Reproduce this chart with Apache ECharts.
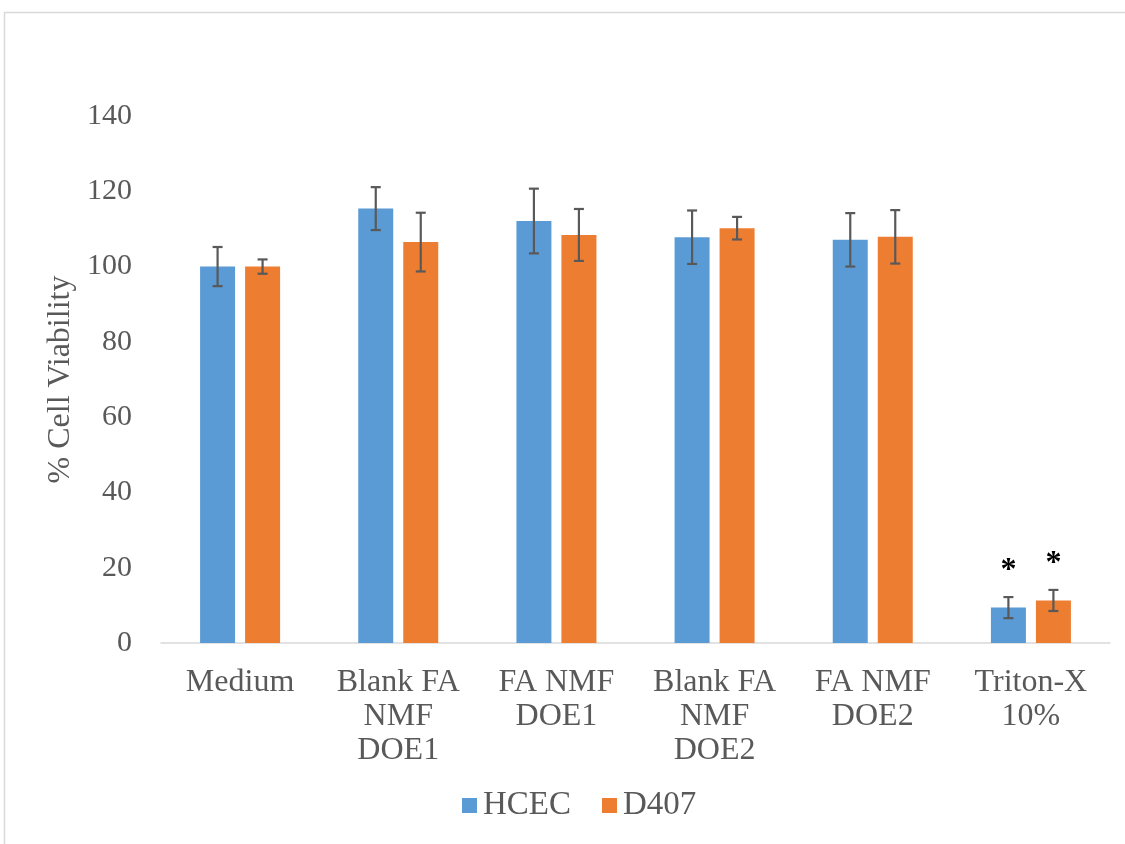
<!DOCTYPE html>
<html>
<head>
<meta charset="utf-8">
<script src="https://cdn.jsdelivr.net/npm/echarts@6/dist/echarts.min.js"></script>
<style>
  html, body { margin: 0; padding: 0; background: #ffffff; }
  #chart { width: 1125px; height: 844px; }
</style>
</head>
<body>
<div id="chart"></div>
<script>
// Treatment groups (axis labels, with line breaks as displayed)
const categories = [
  'Medium',
  'Blank FA\nNMF\nDOE1',
  'FA NMF\nDOE1',
  'Blank FA\nNMF\nDOE2',
  'FA NMF\nDOE2',
  'Triton-X\n10%'
];

// Mean % cell viability per cell line
const hcecMean = [100.0, 115.4, 112.1, 107.8, 107.1, 9.4];
const d407Mean = [100.0, 106.5, 108.4, 110.2, 107.9, 11.3];

// Standard deviation per cell line
const hcecSd = [5.2, 5.7, 8.6, 7.1, 7.1, 2.8];
const d407Sd = [1.9, 7.8, 6.9, 3.0, 7.1, 2.8];

// Statistical significance markers
const hcecSig = [false, false, false, false, false, true];
const d407Sig = [false, false, false, false, false, true];

const yTicks = [0, 20, 40, 60, 80, 100, 120, 140];

const FONT = '"Liberation Serif", "Times New Roman", serif';
const TEXT = '#595959';
const BAR_W = 35;
const BAR_GAP = 10;

function errorData(mean, sd, sig) {
  return mean.map((m, i) => [i, m - sd[i], m + sd[i], sig[i] ? 1 : 0]);
}

// Draws a capped error bar, plus an asterisk when flagged
function errorRenderer(offset) {
  return function (params, api) {
    const idx = api.value(0);
    const lo = api.coord([idx, api.value(1)]);
    const hi = api.coord([idx, api.value(2)]);
    const x = lo[0] + offset;
    const cap = 5;
    const style = { stroke: '#595959', lineWidth: 2.2 };
    const children = [
      { type: 'line', shape: { x1: x, y1: hi[1], x2: x, y2: lo[1] }, style: style },
      { type: 'line', shape: { x1: x - cap, y1: hi[1], x2: x + cap, y2: hi[1] }, style: style },
      { type: 'line', shape: { x1: x - cap, y1: lo[1], x2: x + cap, y2: lo[1] }, style: style }
    ];
    if (api.value(3) === 1) {
      children.push({
        type: 'text',
        style: {
          x: x, y: hi[1] - 26, text: '*',
          fill: '#000000', font: 'bold 32px "Liberation Serif", serif',
          align: 'center', verticalAlign: 'middle'
        }
      });
    }
    return { type: 'group', children: children };
  };
}

const half = (BAR_W + BAR_GAP) / 2;
const chart = echarts.init(document.getElementById('chart'));

chart.setOption({
  animation: false,
  backgroundColor: '#ffffff',
  graphic: [{
    type: 'rect',
    z: -10,
    shape: { x: 4.5, y: 12.5, width: 1130, height: 850 },
    style: { fill: 'none', stroke: '#d9d9d9', lineWidth: 1.5 }
  }],
  legend: {
    data: ['HCEC', 'D407'],
    bottom: 17,
    left: 457,
    itemWidth: 15,
    itemHeight: 15,
    itemGap: 31,
    icon: 'rect',
    textStyle: { fontFamily: FONT, fontSize: 33, color: TEXT, padding: [0, 0, 0, 1] }
  },
  grid: { left: 161, right: 15, top: 116, bottom: 201, containLabel: false },
  xAxis: {
    type: 'category',
    data: categories,
    axisLine: { lineStyle: { color: '#d9d9d9', width: 1.5 } },
    axisTick: { show: false },
    axisLabel: {
      fontFamily: FONT, fontSize: 32, color: TEXT,
      lineHeight: 34, margin: 23, interval: 0, align: 'center'
    }
  },
  yAxis: {
    type: 'value',
    min: 0, max: 140, interval: 20,
    name: '% Cell Viability',
    nameLocation: 'middle',
    nameGap: 84,
    nameTextStyle: { fontFamily: FONT, fontSize: 32, color: TEXT },
    axisLine: { show: false },
    axisTick: { show: false },
    splitLine: { show: false },
    axisLabel: {
      fontFamily: FONT, fontSize: 30, color: TEXT, margin: 29,
      formatter: v => (yTicks.includes(v) ? String(v) : '')
    }
  },
  series: [
    {
      name: 'HCEC', type: 'bar', data: hcecMean,
      barWidth: BAR_W, barGap: (BAR_GAP / BAR_W * 100).toFixed(1) + '%',
      itemStyle: { color: '#5B9BD5' }
    },
    {
      name: 'D407', type: 'bar', data: d407Mean,
      barWidth: BAR_W,
      itemStyle: { color: '#ED7D31' }
    },
    {
      name: 'HCEC-err', type: 'custom', z: 10,
      data: errorData(hcecMean, hcecSd, hcecSig),
      encode: { x: 0, y: [1, 2] },
      renderItem: errorRenderer(-half)
    },
    {
      name: 'D407-err', type: 'custom', z: 10,
      data: errorData(d407Mean, d407Sd, d407Sig),
      encode: { x: 0, y: [1, 2] },
      renderItem: errorRenderer(half)
    }
  ]
});
</script>
</body>
</html>
